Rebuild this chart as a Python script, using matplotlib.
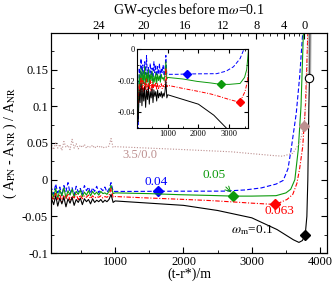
# amplitude difference PN vs NR, with inset zoom
import numpy as np
import matplotlib
matplotlib.use('Agg')
import matplotlib.pyplot as plt
from matplotlib.ticker import MultipleLocator, FuncFormatter

plt.rcParams['font.family'] = ['Liberation Serif', 'DejaVu Serif']
plt.rcParams['mathtext.fontset'] = 'stix'

# noisy early part (t < 1000), shared by all curves
t_noisy = [40, 70, 100, 130, 160, 190, 220, 250, 280, 310, 340, 370, 400, 430, 460, 490,
           520, 550, 580, 610, 640, 670, 700, 730, 760, 790, 820, 850, 880, 910, 940, 970]
blue_noisy = [-0.052, -0.012, -0.020, -0.006, -0.018, -0.010, -0.022, -0.008, -0.016, -0.004, -0.019,
              -0.011, -0.021, -0.009, -0.017, -0.012, -0.020, -0.008, -0.015, -0.010, -0.019, -0.011,
              -0.016, -0.009, -0.018, -0.012, -0.015, -0.010, -0.017, -0.013, -0.004, -0.016]
green_noisy = [-0.040, -0.016, -0.024, -0.012, -0.026, -0.014, -0.022, -0.011, -0.025, -0.015, -0.021,
               -0.013, -0.024, -0.016, -0.020, -0.014, -0.023, -0.017, -0.021, -0.015, -0.022, -0.016,
               -0.020, -0.017, -0.021, -0.016, -0.019, -0.018, -0.020, -0.016, -0.008, -0.019]
red_noisy = [-0.035, -0.022, -0.028, -0.018, -0.027, -0.020, -0.030, -0.021, -0.026, -0.019, -0.028,
             -0.022, -0.025, -0.020, -0.027, -0.021, -0.026, -0.022, -0.024, -0.021, -0.026, -0.022,
             -0.025, -0.023, -0.024, -0.022, -0.025, -0.023, -0.024, -0.022, -0.012, -0.024]
black_noisy = [-0.046, -0.026, -0.034, -0.022, -0.036, -0.025, -0.033, -0.024, -0.037, -0.026, -0.032,
               -0.024, -0.035, -0.027, -0.031, -0.025, -0.034, -0.026, -0.030, -0.027, -0.033, -0.026,
               -0.031, -0.028, -0.030, -0.027, -0.031, -0.028, -0.030, -0.027, -0.020, -0.031]
brown_noisy = [0.040, 0.047, 0.041, 0.050, 0.043, 0.048, 0.040, 0.052, 0.044, 0.047, 0.041, 0.055,
               0.043, 0.049, 0.042, 0.047, 0.044, 0.048, 0.043, 0.046, 0.044, 0.047, 0.043, 0.046,
               0.044, 0.046, 0.043, 0.045, 0.044, 0.046, 0.056, 0.044]

# smooth later part
blue_t = [1000, 1300, 1620, 2000, 2590, 2900, 3140, 3355, 3460, 3530, 3575, 3650, 3700, 3745]
blue_v = [-0.016, -0.016, -0.0158, -0.0157, -0.0156, -0.014, -0.0112, -0.006, -0.001, 0.015,
          0.041, 0.09, 0.14, 0.2]
green_t = [1000, 1500, 1955, 2400, 2720, 3000, 3355, 3500, 3570, 3630, 3680, 3720, 3755]
green_v = [-0.018, -0.019, -0.0205, -0.0215, -0.0224, -0.0224, -0.0218, -0.018, -0.013, 0.0,
           0.041, 0.1, 0.2]
red_t = [1000, 1500, 1955, 2400, 2720, 3000, 3345, 3515, 3600, 3660, 3700, 3745, 3785, 3820]
red_v = [-0.023, -0.025, -0.0267, -0.0285, -0.0303, -0.032, -0.0338, -0.027, -0.02, -0.005,
         0.015, 0.045, 0.1, 0.2]
black_t = [1000, 1500, 2000, 2500, 2900, 3000, 3370, 3610, 3690, 3740, 3782, 3806, 3820, 3835,
           3844, 3850]
black_v = [-0.029, -0.032, -0.035, -0.042, -0.05, -0.052, -0.068, -0.082, -0.0855, -0.083,
           -0.075, -0.05, 0.0, 0.1, 0.138, 0.2]
brown_t = [1000, 1500, 2000, 2700, 3300, 3450, 3600, 3700, 3767, 3800, 3825]
brown_v = [0.045, 0.043, 0.041, 0.038, 0.033, 0.032, 0.036, 0.05, 0.073, 0.12, 0.2]

# diamond markers (t, value)
marks = {
    'blue': (1620, -0.0158),
    'green': (2720, -0.0224),
    'red': (3345, -0.0338),
    'black': (3782, -0.075),
    'brown': (3767, 0.073),
}
circle_t, circle_v = 3844, 0.138
gray_t = [3846, 3852]
gray_v = [0.135, 0.2]

# top axis: GW cycles before m*omega=0.1 and where they sit in time
cycles = [24, 20, 16, 12, 8, 4, 0]
cycles_t = [755, 1425, 2025, 2582, 3064, 3474, 3767]

c_blue = '#0000ff'
c_green = '#0c9a0c'
c_red = '#ff0000'
c_brown = '#bc8f8f'

curves = [
    (t_noisy + blue_t, blue_noisy + blue_v, c_blue, (0, (4, 2)), 'blue'),
    (t_noisy + green_t, green_noisy + green_v, c_green, '-', 'green'),
    (t_noisy + red_t, red_noisy + red_v, c_red, (0, (4, 1.5, 1, 1.5)), 'red'),
    (t_noisy + black_t, black_noisy + black_v, 'black', '-', 'black'),
    (t_noisy + brown_t, brown_noisy + brown_v, c_brown, (0, (1, 1.5)), 'brown'),
]

fig = plt.figure(figsize=(3.35, 2.84), dpi=100)
ax = fig.add_axes([0.152, 0.109, 0.824, 0.775])

for t, v, c, ls, key in curves:
    ax.plot(t, v, color=c, ls=ls, lw=0.8)
    ax.plot(*marks[key], marker='D', color=c, ms=5, ls='none')
ax.plot(gray_t, gray_v, color='gray', lw=2.2, alpha=0.6)
ax.plot(circle_t, circle_v, marker='o', mfc='white', mec='black', ms=6, mew=0.8)

ax.set_xlim(60, 4100)
ax.set_ylim(-0.1, 0.2)
ax.set_yticks([-0.1, -0.05, 0, 0.05, 0.1, 0.15])
ax.yaxis.set_minor_locator(MultipleLocator(0.025))
ax.xaxis.set_major_locator(MultipleLocator(1000))
ax.xaxis.set_minor_locator(MultipleLocator(500))
ax.yaxis.set_major_formatter(FuncFormatter(lambda y, p: '%g' % round(y, 3)))
ax.tick_params(which='both', direction='in', right=True, labelsize=9, pad=2)
ax.tick_params(which='major', length=4)
ax.tick_params(which='minor', length=2)
ax.set_xlabel('(t-r*)/m', fontsize=10, labelpad=0)
ax.set_ylabel(r'( A$_{\rm PN}$ - A$_{\rm NR}$ ) / A$_{\rm NR}$', fontsize=10, labelpad=2)

ax.text(1366, 0.034, '3.5/0.0', color=c_brown, fontsize=9, ha='center', va='center')
ax.text(1600, -0.0035, '0.04', color=c_blue, fontsize=9.5, ha='center', va='center')
ax.annotate('0.05', xy=(2700, -0.0175), xytext=(2450, 0.006), color=c_green, fontsize=9.5,
            ha='center', va='center',
            arrowprops=dict(arrowstyle='->', color=c_green, lw=0.7, shrinkA=3, shrinkB=0))
ax.text(3408, -0.043, '0.063', color=c_red, fontsize=9.5, ha='center', va='center')
ax.text(3006, -0.069, r'$\omega_{\rm m}$=0.1', color='black', fontsize=9.5, ha='center', va='center')

top = ax.twiny()
top.set_xlim(ax.get_xlim())
top.set_xticks(cycles_t)
top.set_xticklabels([str(c) for c in cycles])
minor_cyc = [c for c in range(0, 25) if c % 4 != 0]
top.set_xticks(np.interp(minor_cyc, cycles[::-1], cycles_t[::-1]), minor=True)
top.tick_params(which='both', direction='in', labelsize=9, pad=1)
top.tick_params(which='major', length=4)
top.tick_params(which='minor', length=2)
top.set_xlabel(r'GW-cycles before m$\omega$=0.1', fontsize=10, labelpad=4)

# inset
ins = fig.add_axes([0.409, 0.550, 0.332, 0.277])
for t, v, c, ls, key in curves[:4]:
    ins.plot(t, v, color=c, ls=ls, lw=0.7)
    ins.plot(*marks[key], marker='D', color=c, ms=4, ls='none')
ins.set_xlim(0, 3620)
ins.set_ylim(-0.05, 0)
ins.set_yticks([-0.04, -0.02, 0])
ins.yaxis.set_minor_locator(MultipleLocator(0.01))
ins.set_xticks([1000, 2000, 3000])
ins.xaxis.set_minor_locator(MultipleLocator(500))
ins.yaxis.set_major_formatter(FuncFormatter(lambda y, p: '%g' % round(y, 3)))
ins.tick_params(which='both', direction='in', right=True, top=True, labelsize=6, pad=1.5)
ins.tick_params(which='major', length=3)
ins.tick_params(which='minor', length=1.5)

fig.savefig('out.png', dpi=100)
